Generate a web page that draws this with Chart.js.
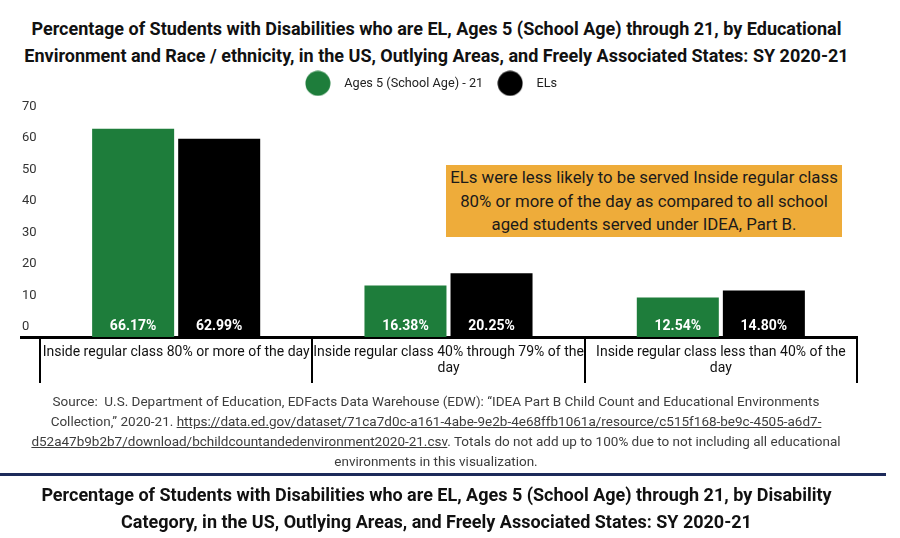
<!DOCTYPE html>
<html>
<head>
<meta charset="utf-8">
<script src="https://cdn.jsdelivr.net/npm/chart.js@4.4.1/dist/chart.umd.min.js"></script>
<style>
  body { margin: 0; background: #fff; font-family: Roboto, sans-serif; }
  #page { position: relative; width: 900px; height: 538px; overflow: hidden; }
  .title { position: absolute; left: 0; width: 873px; text-align: center; font-weight: bold; font-size: 18px; line-height: 27px; color: #111; }
  #chartWrap { position: absolute; left: 0; top: 62px; width: 900px; height: 330px; }
  #note { position: absolute; left: 446px; top: 165px; width: 396px; height: 72px; background: #eeac3a; color: #1a1a1a;
          font-size: 16.8px; line-height: 23.5px; text-align: center; padding-top: 1px; box-sizing: border-box; }
  #source { position: absolute; left: 0; width: 872px; top: 391px; text-align: center; font-size: 13.5px; line-height: 20px; color: #3d3d3d; }
  #source a { color: #3d3d3d; }
  #rule { position: absolute; left: 0; top: 473px; width: 886px; height: 3px; background: #1d2a5a; }
</style>
</head>
<body>
<div id="page">
  <div class="title" style="top:15px">Percentage of Students with Disabilities who are EL, Ages 5 (School Age) through 21, by Educational<br>Environment and Race / ethnicity, in the US, Outlying Areas, and Freely Associated States: SY 2020-21</div>
  <div id="chartWrap"><canvas id="chart"></canvas></div>
  <div id="note">ELs were less likely to be served Inside regular class<br>80% or more of the day as compared to all school<br>aged students served under IDEA, Part B.</div>
  <div id="source">Source:&nbsp; U.S. Department of Education, EDFacts Data Warehouse (EDW): “IDEA Part B Child Count and Educational Environments<br>Collection,” 2020-21. <a href="#">https://data.ed.gov/dataset/71ca7d0c-a161-4abe-9e2b-4e68ffb1061a/resource/c515f168-be9c-4505-a6d7-<br>d52a47b9b2b7/download/bchildcountandedenvironment2020-21.csv</a>. Totals do not add up to 100% due to not including all educational<br>environments in this visualization.</div>
  <div id="rule"></div>
  <div class="title" style="top:481px">Percentage of Students with Disabilities who are EL, Ages 5 (School Age) through 21, by Disability<br>Category, in the US, Outlying Areas, and Freely Associated States: SY 2020-21</div>
</div>
<script>
// data
const environments = [
  ['Inside regular class 80% or more of the day'],
  ['Inside regular class 40% through 79% of the', 'day'],
  ['Inside regular class less than 40% of the', 'day']
];
const allAges = [66.17, 16.38, 12.54];
const englishLearners = [62.99, 20.25, 14.80];
const yTicks = [0, 10, 20, 30, 40, 50, 60, 70];

const GREEN = '#1e7d3b';
const BLACK = '#000000';

function dot(color) {
  const c = document.createElement('canvas');
  c.width = 26; c.height = 26;
  const g = c.getContext('2d');
  g.fillStyle = color;
  g.beginPath();
  g.arc(13, 13, 12.5, 0, Math.PI * 2);
  g.fill();
  return c;
}

// white percentage labels at the foot of each bar
const valueLabels = {
  id: 'valueLabels',
  afterDatasetsDraw(chart) {
    const ctx = chart.ctx;
    const y0 = chart.scales.y.getPixelForValue(0);
    ctx.save();
    ctx.fillStyle = '#fff';
    ctx.font = 'bold 14px Roboto';
    ctx.textAlign = 'center';
    ctx.textBaseline = 'middle';
    chart.data.datasets.forEach((ds, di) => {
      chart.getDatasetMeta(di).data.forEach((bar, i) => {
        ctx.fillText(ds.data[i].toFixed(2) + '%', bar.x, y0 - 11);
      });
    });
    ctx.restore();
  }
};

// baseline runs a little past the left edge of the table
const baseStub = {
  id: 'baseStub',
  afterDraw(chart) {
    const ctx = chart.ctx;
    const a = chart.chartArea;
    ctx.save();
    ctx.strokeStyle = '#000';
    ctx.lineWidth = 3;
    ctx.beginPath();
    ctx.moveTo(20, a.bottom + 0.5);
    ctx.lineTo(a.left, a.bottom + 0.5);
    ctx.stroke();
    ctx.restore();
  }
};

// extra room under the legend, and nudge it a bit to the left
const legendGap = {
  id: 'legendGap',
  beforeInit(chart) {
    const fit = chart.legend.fit;
    chart.legend.fit = function() {
      fit.bind(chart.legend)();
      this.height += 17;
    };
  },
  afterLayout(chart) {
    chart.legend.left -= 12;
    chart.legend.right -= 12;
  }
};

new Chart(document.getElementById('chart'), {
  type: 'bar',
  data: {
    labels: environments,
    datasets: [
      { label: 'Ages 5 (School Age) - 21', data: allAges, backgroundColor: GREEN, pointStyle: dot(GREEN) },
      { label: 'ELs', data: englishLearners, backgroundColor: BLACK, pointStyle: dot(BLACK) }
    ]
  },
  options: {
    responsive: true,
    maintainAspectRatio: false,
    animation: false,
    categoryPercentage: 0.632,
    barPercentage: 0.953,
    layout: { padding: { left: 22, right: 43, top: 8, bottom: 9 } },
    scales: {
      x: {
        afterFit(scale) { scale.height = 46; },
        grid: { display: true, drawOnChartArea: false, drawTicks: true, tickLength: 46, color: '#000', lineWidth: 2, offset: true },
        border: { display: true, color: '#000', width: 3 },
        ticks: {
          color: '#111',
          font: { family: 'Roboto', size: 14, lineHeight: '16px' },
          padding: -39,
          maxRotation: 0,
          autoSkip: false
        }
      },
      y: {
        min: 0,
        max: 70,
        afterBuildTicks(scale) { scale.ticks = yTicks.map(v => ({ value: v })); },
        afterFit(scale) { scale.width = 18; },
        grid: { display: false },
        border: { display: false },
        ticks: {
          color: '#333',
          font: { family: 'Roboto', size: 13 },
          labelOffset: -10,
          crossAlign: 'far',
          padding: 0
        }
      }
    },
    plugins: {
      legend: {
        position: 'top',
        labels: {
          usePointStyle: true,
          pointStyleWidth: 40,
          padding: 7,
          color: '#222',
          font: { family: 'Roboto', size: 12.7 }
        }
      },
      tooltip: { enabled: false }
    }
  },
  plugins: [valueLabels, baseStub, legendGap]
});
</script>
</body>
</html>
